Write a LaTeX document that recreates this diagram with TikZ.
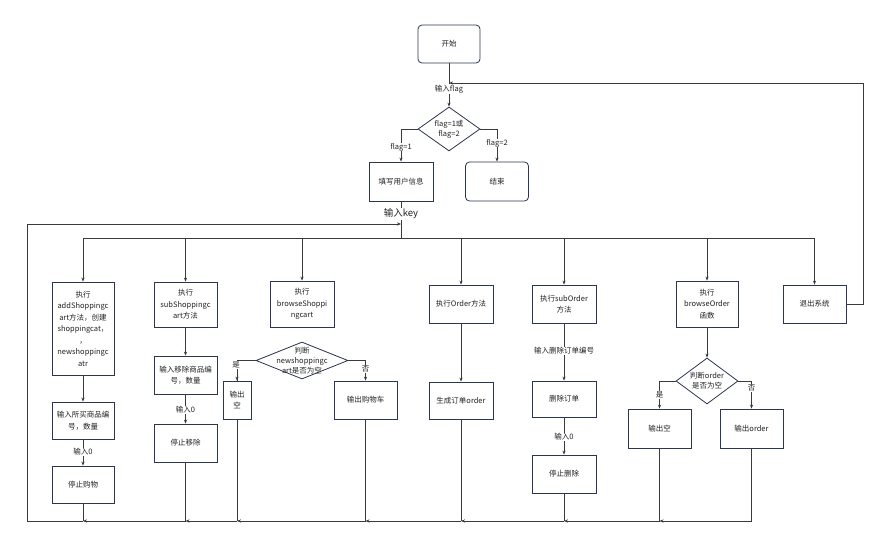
\documentclass[tikz,border=0pt]{standalone}
\usepackage{fontspec}
\setmainfont{Noto Sans CJK SC}
\usetikzlibrary{shapes.geometric,arrows.meta}
\definecolor{boxc}{HTML}{2C3553}
\definecolor{linec}{HTML}{3A3A3A}
\definecolor{txtc}{HTML}{222222}
\tikzset{
  bx/.style={draw=boxc, line width=0.8pt, fill=white, inner sep=1pt, align=center,
    font=\fontsize{7.5}{11.5}\selectfont, text=txtc},
  rbx/.style={bx, rounded corners=4pt},
  dia/.style={draw=boxc, line width=0.8pt, diamond, inner sep=0pt},
  ln/.style={draw=linec, line width=0.8pt},
  arr/.style={ln, -{Stealth[length=4pt,width=3.2pt]}},
  lbl/.style={fill=white, inner sep=0.5pt, font=\fontsize{7.5}{9}\selectfont, text=txtc, align=center},
  dtxt/.style={inner sep=0pt, font=\fontsize{7.5}{10}\selectfont, text=txtc, align=center}
}
\begin{document}
\begin{tikzpicture}[x=1pt,y=-1pt]
\useasboundingbox (0,0) rectangle (891,549);
% top part
\node[rbx, minimum width=62pt, minimum height=38pt] (start) at (449,44) {开始};
\node[dia, minimum width=62pt, minimum height=44pt] (d1) at (449,129) {};
\node[dtxt] at (d1) {flag=1或\\flag=2};
\node[bx, minimum width=64pt, minimum height=39pt] (fillin) at (401,181.5) {填写用户信息};
\node[rbx, minimum width=63pt, minimum height=39pt] (end) at (497,181.5) {结束};
\coordinate (loopin) at (449,83);
\coordinate (keyin) at (401,224);
\coordinate (bustop) at (401,238);

\draw[arr] (start.south) -- (d1.north);
\node[lbl] at (449,89) {输入flag};
\draw[arr] (d1.west) -| (fillin.north);
\node[lbl] at (401,147) {flag=1};
\draw[arr] (d1.east) -| (end.north);
\node[lbl] at (497,143) {flag=2};
\draw[ln] (fillin.south) -- (bustop);
\node[lbl, font=\fontsize{9.5}{11}\selectfont] at (401,214) {输入key};

% column boxes
\node[bx, minimum width=62pt, minimum height=93pt] (add) at (83,328.5) {执行\\addShoppingc\\art方法，创建\\shoppingcat，\\，\\newshoppingc\\atr};
\node[bx, minimum width=62pt, minimum height=37pt] (addin) at (83,420.5) {输入所买商品编\\号，数量};
\node[bx, minimum width=62pt, minimum height=37pt] (addstop) at (83,484.5) {停止购物};

\node[bx, minimum width=63pt, minimum height=45pt] (sub) at (185.5,304.5) {执行\\subShoppingc\\art方法};
\node[bx, minimum width=63pt, minimum height=38pt] (subin) at (185.5,375) {输入移除商品编\\号，数量};
\node[bx, minimum width=63pt, minimum height=38pt] (substop) at (185.5,443) {停止移除};

\node[bx, minimum width=64pt, minimum height=46pt] (browse) at (302,304) {执行\\browseShoppi\\ngcart};
\node[dia, minimum width=92pt, minimum height=37pt] (d2) at (302,360.5) {};
\node[dtxt] at (d2) {判断\\newshoppingc\\art是否为空};
\node[bx, minimum width=28pt, minimum height=38pt] (empty1) at (237,400) {输出\\空};
\node[bx, minimum width=63pt, minimum height=38pt] (cart) at (365.5,400) {输出购物车};

\node[bx, minimum width=64pt, minimum height=38pt] (order) at (461,304) {执行Order方法};
\node[bx, minimum width=64pt, minimum height=37pt] (gen) at (461,400.5) {生成订单order};

\node[bx, minimum width=64pt, minimum height=38pt] (suborder) at (564,304) {执行subOrder\\方法};
\node[bx, minimum width=64pt, minimum height=36pt] (del) at (564,399) {删除订单};
\node[bx, minimum width=64pt, minimum height=38pt] (delstop) at (564,474) {停止删除};

\node[bx, minimum width=62pt, minimum height=46pt] (border) at (707,304) {执行\\browseOrder\\函数};
\node[dia, minimum width=62pt, minimum height=46pt] (d3) at (707,381) {};
\node[dtxt] at (d3) {判断order\\是否为空};
\node[bx, minimum width=63pt, minimum height=39pt] (empty2) at (659.5,428.5) {输出空};
\node[bx, minimum width=63pt, minimum height=39pt] (oout) at (751.5,428.5) {输出order};

\node[bx, minimum width=63pt, minimum height=38pt] (exit) at (814.5,304) {退出系统};

% top bus
\coordinate (t1) at (83,238);
\coordinate (t2) at (185.5,238);
\coordinate (t3) at (302,238);
\coordinate (t4) at (461,238);
\coordinate (t5) at (564,238);
\coordinate (t6) at (707,238);
\coordinate (t7) at (814.5,238);
\draw[ln] (t1) -- (t7);
\draw[arr] (t1) -- (add.north);
\draw[arr] (t2) -- (sub.north);
\draw[arr] (t3) -- (browse.north);
\draw[arr] (t4) -- (order.north);
\draw[arr] (t5) -- (suborder.north);
\draw[arr] (t6) -- (border.north);
\draw[arr] (t7) -- (exit.north);

% inner connectors
\draw[arr] (add.south) -- (addin.north);
\draw[arr] (addin.south) -- (addstop.north);
\node[lbl] at (83,452) {输入0};
\draw[arr] (sub.south) -- (subin.north);
\draw[arr] (subin.south) -- (substop.north);
\node[lbl] at (185.5,410) {输入0};
\draw[ln] (d2.west) -| (empty1.north);
\draw[arr] (237,368) -- (empty1.north);
\node[lbl] at (236,365) {是};
\draw[arr] (d2.east) -| (cart.north);
\node[lbl] at (365.5,369) {否};
\draw[arr] (order.south) -- (gen.north);
\draw[arr] (suborder.south) -- (del.north);
\node[lbl] at (564,351) {输入删除订单编号};
\draw[arr] (del.south) -- (delstop.north);
\node[lbl] at (564,437) {输入0};
\draw[arr] (border.south) -- (d3.north);
\draw[arr] (d3.west) -| (empty2.north);
\node[lbl] at (659.5,395) {是};
\draw[arr] (d3.east) -| (oout.north);
\node[lbl] at (751.5,388) {否};

% exit loop
\coordinate (rloop) at (863,83);
\draw[arr] (exit.east) -| (rloop) -- (loopin);

% bottom bus
\coordinate (b1) at (83,521);
\coordinate (b2) at (185.5,521);
\coordinate (b3) at (237,521);
\coordinate (b4) at (365.5,521);
\coordinate (b5) at (461,521);
\coordinate (b6) at (564,521);
\coordinate (b7) at (659.5,521);
\coordinate (b8) at (751.5,521);
\coordinate (lcorner) at (27,521);
\draw[ln] (addstop.south) -- (b1);
\draw[ln] (substop.south) -- (b2);
\draw[ln] (empty1.south) -- (b3);
\draw[ln] (cart.south) -- (b4);
\draw[ln] (gen.south) -- (b5);
\draw[ln] (delstop.south) -- (b6);
\draw[ln] (empty2.south) -- (b7);
\draw[ln] (oout.south) -- (b8);
\draw[arr] (b8) -- (b7);
\draw[arr] (b7) -- (b6);
\draw[arr] (b6) -- (b5);
\draw[arr] (b5) -- (b4);
\draw[arr] (b4) -- (b3);
\draw[arr] (b3) -- (b2);
\draw[arr] (b2) -- (b1);
\draw[arr] (b1) -- (lcorner) |- (keyin);
\end{tikzpicture}
\end{document}
